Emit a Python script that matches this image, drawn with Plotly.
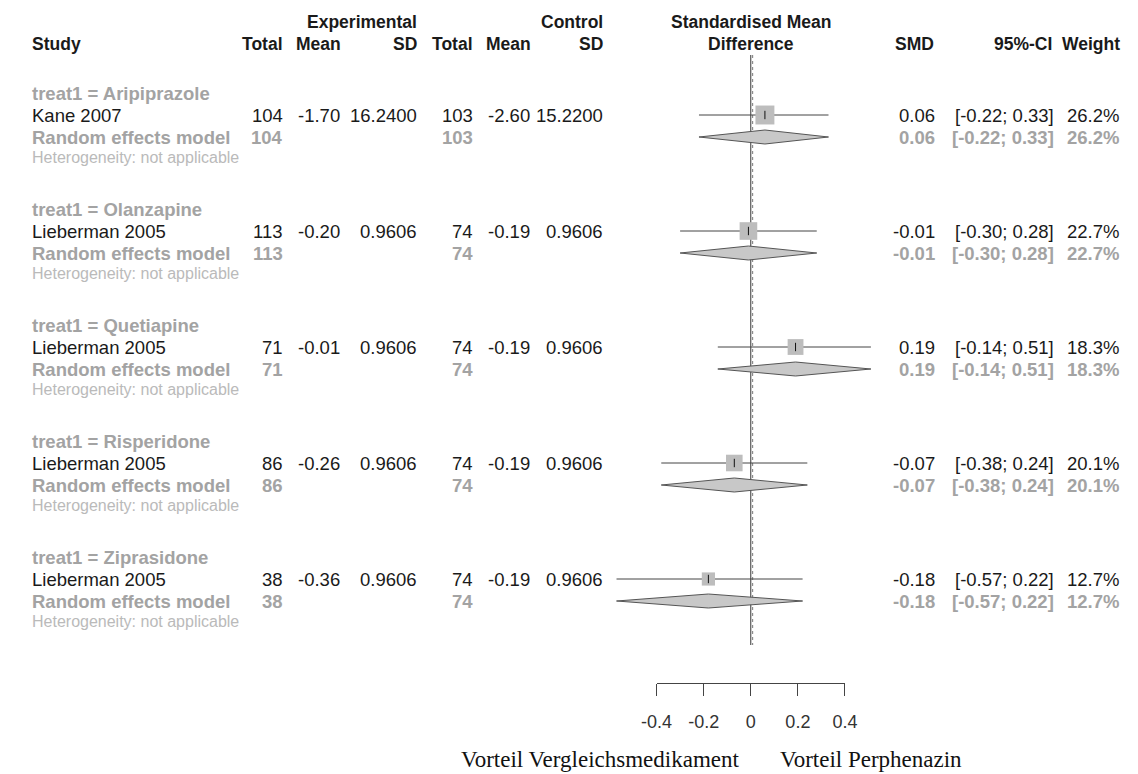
import plotly.graph_objects as go
import math

# ---------------- data ----------------
groups = ["Aripiprazole", "Olanzapine", "Quetiapine", "Risperidone", "Ziprasidone"]
studies = ["Kane 2007", "Lieberman 2005", "Lieberman 2005", "Lieberman 2005", "Lieberman 2005"]
exp_n = [104, 113, 71, 86, 38]
exp_mean = [-1.70, -0.20, -0.01, -0.26, -0.36]
exp_sd = [16.24, 0.9606, 0.9606, 0.9606, 0.9606]
ctrl_n = [103, 74, 74, 74, 74]
ctrl_mean = [-2.60, -0.19, -0.19, -0.19, -0.19]
ctrl_sd = [15.22, 0.9606, 0.9606, 0.9606, 0.9606]
smd = [0.06, -0.01, 0.19, -0.07, -0.18]
ci_lo = [-0.22, -0.30, -0.14, -0.38, -0.57]
ci_hi = [0.33, 0.28, 0.51, 0.24, 0.22]
weight = [26.2, 22.7, 18.3, 20.1, 12.7]
tick_vals = [-0.4, -0.2, 0, 0.2, 0.4]
tick_text = ["-0.4", "-0.2", "0", "0.2", "0.4"]
overall = 0.008
label_left = "Vorteil Vergleichsmedikament"
label_right = "Vorteil Perphenazin"

# ---------------- layout constants ----------------
W, H = 1138, 774
X0 = 754.0          # pixel of SMD = 0
K = 241.7           # pixels per SMD unit
xrange = [-X0 / K, (W - X0) / K]

HEAD1, HEAD2 = 22, 44
GROUP_TOP, PERIOD = 93, 116
OFF_STUDY, OFF_RE, OFF_HET = 22, 44, 64
LINE_TOP, LINE_BOT = 55, 645
AXIS_Y = 683

SANS = "Liberation Sans, Arial, Helvetica, sans-serif"
SERIF = "Liberation Serif, Times New Roman, serif"
FS = 18.5
FSH = 17.5
BLACK = "#1a1a1a"
GREY = "#a3a3a3"
LIGHT = "#bababa"

fig = go.Figure()
ann = []


def txt(px, y, text, anchor="right", color=BLACK, size=FS, bold=False, family=SANS):
    if bold:
        text = "<b>" + text + "</b>"
    ann.append(dict(x=px / W, xref="paper", y=y, yref="y", text=text, showarrow=False,
                    xanchor=anchor, yanchor="middle", borderpad=0,
                    font=dict(family=family, size=size, color=color)))


# headers
txt(15, HEAD2, "Study", "left", bold=True, size=FSH)
txt(413, HEAD1, "Experimental", bold=True, size=FSH)
txt(603, HEAD1, "Control", bold=True, size=FSH)
txt(X0, HEAD1, "Standardised Mean", "center", bold=True, size=FSH)
txt(X0, HEAD2, "Difference", "center", bold=True, size=FSH)
for px, t in [(275, "Total"), (335, "Mean"), (413, "SD"), (470, "Total"), (530, "Mean"),
              (603, "SD"), (943, "SMD"), (1064, "95%-CI"), (1134, "Weight")]:
    txt(px, HEAD2, t, bold=True, size=FSH)

# zero line and dotted line
fig.add_trace(go.Scatter(x=[0, 0], y=[LINE_TOP, LINE_BOT], mode="lines",
                         line=dict(color="#333333", width=1), hoverinfo="skip"))
fig.add_trace(go.Scatter(x=[overall, overall], y=[LINE_TOP, LINE_BOT], mode="lines",
                         line=dict(color="#777777", width=1, dash="dot"), hoverinfo="skip"))

for i, g in enumerate(groups):
    top = GROUP_TOP + i * PERIOD
    ys = top + OFF_STUDY
    yr = top + OFF_RE
    yh = top + OFF_HET
    txt(15, top, "treat1 = " + g, "left", color=GREY, bold=True)
    txt(15, ys, studies[i], "left")
    txt(275, ys, str(exp_n[i]))
    txt(333, ys, f"{exp_mean[i]:.2f}")
    txt(413, ys, f"{exp_sd[i]:.4f}")
    txt(470, ys, str(ctrl_n[i]))
    txt(528, ys, f"{ctrl_mean[i]:.2f}")
    txt(603, ys, f"{ctrl_sd[i]:.4f}")
    txt(15, yr, "Random effects model", "left", color=GREY, bold=True)
    txt(275, yr, str(exp_n[i]), color=GREY, bold=True)
    txt(470, yr, str(ctrl_n[i]), color=GREY, bold=True)
    txt(15, yh, "Heterogeneity: not applicable", "left", color=LIGHT, size=16)
    ci = f"[{ci_lo[i]:.2f}; {ci_hi[i]:.2f}]"
    txt(944, ys, f"{smd[i]:.2f}")
    txt(1066, ys, ci)
    txt(1133, ys, f"{weight[i]:.1f}%")
    txt(944, yr, f"{smd[i]:.2f}", color=GREY, bold=True)
    txt(1066, yr, ci, color=GREY, bold=True)
    txt(1133, yr, f"{weight[i]:.1f}%", color=GREY, bold=True)

    # CI line
    fig.add_trace(go.Scatter(x=[ci_lo[i], ci_hi[i]], y=[ys, ys], mode="lines",
                             line=dict(color="#444444", width=1), hoverinfo="skip"))
    # weight square
    fig.add_trace(go.Scatter(x=[smd[i]], y=[ys], mode="markers",
                             marker=dict(symbol="square", size=37 * math.sqrt(weight[i] / 100),
                                         color="#bdbdbd", line=dict(width=0)), hoverinfo="skip"))
    fig.add_trace(go.Scatter(x=[smd[i]], y=[ys], mode="markers",
                             marker=dict(symbol="line-ns", size=6,
                                         line=dict(color="#111111", width=1)), hoverinfo="skip"))
    # diamond
    hh = 7
    fig.add_trace(go.Scatter(x=[ci_lo[i], smd[i], ci_hi[i], smd[i], ci_lo[i]],
                             y=[yr, yr - hh, yr, yr + hh, yr], mode="lines", fill="toself",
                             fillcolor="#c8c8c8", line=dict(color="#555555", width=1),
                             hoverinfo="skip"))

# bottom labels
txt(743, 759, label_left, "right", family=SERIF, size=23, color="#111111")
txt(783, 759, label_right, "left", family=SERIF, size=23, color="#111111")

# axis for ticks (secondary x axis spanning -0.4..0.4)
a_lo, a_hi = tick_vals[0], tick_vals[-1]
fig.add_trace(go.Scatter(x=[a_lo, a_hi], y=[0, 0], xaxis="x2", yaxis="y2", mode="markers",
                         marker=dict(opacity=0), hoverinfo="skip"))

fig.update_layout(
    width=W, height=H, margin=dict(l=0, r=0, t=0, b=0),
    paper_bgcolor="white", plot_bgcolor="rgba(0,0,0,0)", showlegend=False,
    annotations=ann,
    xaxis=dict(range=xrange, domain=[0, 1], visible=False, fixedrange=True),
    yaxis=dict(range=[H, 0], domain=[0, 1], visible=False, fixedrange=True),
    xaxis2=dict(range=[a_lo, a_hi], domain=[(X0 + a_lo * K) / W, (X0 + a_hi * K) / W],
                anchor="free", position=(H - AXIS_Y) / H, side="bottom",
                showline=True, linecolor="#444444", linewidth=1,
                ticks="outside", ticklen=12, tickcolor="#444444", tickwidth=1,
                tickvals=tick_vals, ticktext=tick_text, ticklabelstandoff=10,
                tickfont=dict(family=SANS, size=18, color="#333333"),
                showgrid=False, zeroline=False, fixedrange=True),
    yaxis2=dict(range=[0, 1], domain=[0, 1], visible=False, overlaying="y", fixedrange=True),
)

fig.write_html("out.html")
